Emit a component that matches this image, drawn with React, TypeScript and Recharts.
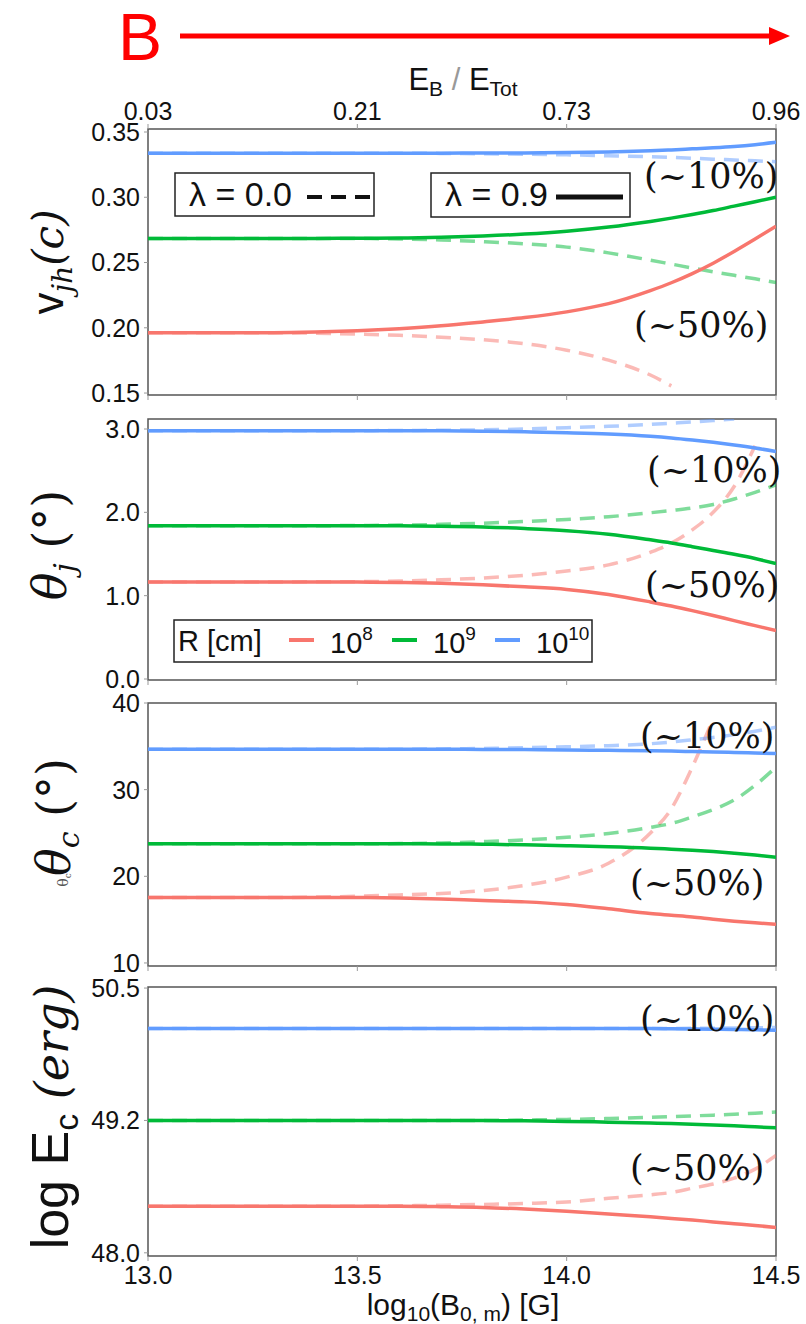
import React from 'react';
import { LineChart, Line, XAxis, YAxis, ReferenceArea } from 'recharts';

// Shared abscissa: log10 of the surface field B0,m in gauss
const B_FIELD = [13.0, 13.1, 13.2, 13.3, 13.4, 13.5, 13.6, 13.7, 13.8, 13.9, 14.0, 14.1, 14.2, 14.25, 14.3, 14.35, 14.4, 14.45, 14.5];
const B_TICKS = [13.0, 13.5, 14.0, 14.5];
const B_TICK_LABELS = ['13.0', '13.5', '14.0', '14.5'];
// Magnetic-to-total energy fraction at the same field values (top axis)
const EB_FRACTION_LABELS = ['0.03', '0.21', '0.73', '0.96'];

// Stellar radius families
const R_EXPONENTS = ['8', '9', '10'];
const R_COLORS = ['#F8766D', '#00BA38', '#619CFF'];

// Jet head velocity v_jh (c)
const V_TICKS = [0.15, 0.2, 0.25, 0.3, 0.35];
const V_TICK_LABELS = ['0.15', '0.20', '0.25', '0.30', '0.35'];
const V_R8_SOLID = [0.1962, 0.1962, 0.1962, 0.1962, 0.1967, 0.1977, 0.1993, 0.2015, 0.2045, 0.2078, 0.2122, 0.2185, 0.2285, 0.2345, 0.2415, 0.2495, 0.2585, 0.268, 0.2778];
const V_R8_DASH = [0.1962, 0.1962, 0.1962, 0.1962, 0.1958, 0.1952, 0.1942, 0.1928, 0.1908, 0.1878, 0.1828, 0.1752, 0.1638, 0.1555, null, null, null, null, null];
const V_R9_SOLID = [0.2685, 0.2685, 0.2685, 0.2685, 0.2685, 0.2686, 0.2688, 0.2693, 0.2703, 0.2718, 0.274, 0.2772, 0.2815, 0.284, 0.2868, 0.2898, 0.2932, 0.2966, 0.3];
const V_R9_DASH = [0.2685, 0.2685, 0.2685, 0.2685, 0.2685, 0.2684, 0.2681, 0.2673, 0.266, 0.2643, 0.2618, 0.2574, 0.2518, 0.2488, 0.2458, 0.2429, 0.2402, 0.2375, 0.2346];
const V_R10_SOLID = [0.3338, 0.3338, 0.3338, 0.3338, 0.3338, 0.3338, 0.3338, 0.3338, 0.3339, 0.334, 0.3342, 0.3346, 0.3356, 0.3363, 0.3371, 0.3379, 0.3389, 0.3403, 0.3421];
const V_R10_DASH = [0.3338, 0.3338, 0.3338, 0.3338, 0.3338, 0.3338, 0.3338, 0.3336, 0.3333, 0.333, 0.3325, 0.3318, 0.331, 0.3305, 0.3299, 0.3292, 0.3286, 0.3279, 0.3272];

// Jet opening angle theta_j (deg)
const TJ_TICKS = [0, 1, 2, 3];
const TJ_TICK_LABELS = ['0.0', '1.0', '2.0', '3.0'];
const TJ_R8_SOLID = [1.165, 1.165, 1.165, 1.165, 1.165, 1.163, 1.158, 1.148, 1.13, 1.106, 1.075, 1.015, 0.925, 0.875, 0.82, 0.762, 0.7, 0.64, 0.58];
const TJ_R8_DASH = [1.165, 1.165, 1.165, 1.165, 1.166, 1.168, 1.175, 1.19, 1.212, 1.245, 1.295, 1.37, 1.52, 1.63, 1.79, 2.0, 2.31, 2.8, null];
const TJ_R9_SOLID = [1.84, 1.84, 1.84, 1.84, 1.84, 1.84, 1.838, 1.834, 1.825, 1.806, 1.78, 1.738, 1.67, 1.632, 1.588, 1.542, 1.496, 1.445, 1.385];
const TJ_R9_DASH = [1.84, 1.84, 1.84, 1.84, 1.84, 1.842, 1.847, 1.856, 1.87, 1.89, 1.915, 1.947, 1.995, 2.022, 2.052, 2.095, 2.16, 2.24, 2.33];
const TJ_R10_SOLID = [2.98, 2.98, 2.98, 2.98, 2.98, 2.98, 2.98, 2.978, 2.974, 2.966, 2.955, 2.94, 2.913, 2.893, 2.868, 2.84, 2.808, 2.772, 2.73];
const TJ_R10_DASH = [2.98, 2.98, 2.98, 2.98, 2.98, 2.98, 2.982, 2.985, 2.99, 3.0, 3.015, 3.032, 3.055, 3.07, 3.085, 3.102, 3.12, null, null];

// Cocoon opening angle theta_c (deg)
const TC_TICKS = [10, 20, 30, 40];
const TC_TICK_LABELS = ['10', '20', '30', '40'];
const TC_R8_SOLID = [17.56, 17.56, 17.56, 17.56, 17.56, 17.55, 17.5, 17.38, 17.2, 17.05, 16.75, 16.25, 15.7, 15.5, 15.3, 15.05, 14.82, 14.63, 14.47];
const TC_R8_DASH = [17.56, 17.56, 17.56, 17.56, 17.6, 17.7, 17.85, 18.02, 18.35, 18.95, 19.9, 21.5, 25.0, 27.8, 32.6, 38.2, null, null, null];
const TC_R9_SOLID = [23.75, 23.75, 23.75, 23.75, 23.75, 23.75, 23.75, 23.74, 23.7, 23.63, 23.53, 23.42, 23.25, 23.13, 23.0, 22.85, 22.66, 22.45, 22.2];
const TC_R9_DASH = [23.75, 23.75, 23.75, 23.75, 23.75, 23.75, 23.78, 23.85, 24.0, 24.2, 24.5, 24.95, 25.65, 26.1, 26.85, 27.7, 28.8, 30.5, 32.6];
const TC_R10_SOLID = [34.66, 34.66, 34.66, 34.66, 34.66, 34.66, 34.66, 34.66, 34.64, 34.62, 34.58, 34.54, 34.48, 34.45, 34.4, 34.35, 34.3, 34.23, 34.16];
const TC_R10_DASH = [34.66, 34.66, 34.66, 34.66, 34.66, 34.66, 34.66, 34.7, 34.76, 34.84, 34.95, 35.08, 35.3, 35.5, 35.75, 36.02, 36.35, 36.75, 37.2];

// Cocoon energy log E_c (erg)
const LE_TICKS = [48.0, 49.25, 50.5];
const LE_TICK_LABELS = ['48.0', '49.2', '50.5'];
const LE_R8_SOLID = [48.44, 48.44, 48.44, 48.44, 48.44, 48.44, 48.44, 48.436, 48.429, 48.413, 48.392, 48.366, 48.34, 48.325, 48.31, 48.292, 48.275, 48.258, 48.24];
const LE_R8_DASH = [48.44, 48.44, 48.44, 48.44, 48.44, 48.44, 48.444, 48.45, 48.457, 48.466, 48.48, 48.515, 48.548, 48.57, 48.61, 48.65, 48.705, 48.79, 48.92];
const LE_R9_SOLID = [49.25, 49.25, 49.25, 49.25, 49.25, 49.25, 49.25, 49.25, 49.25, 49.246, 49.241, 49.234, 49.226, 49.221, 49.215, 49.208, 49.2, 49.19, 49.18];
const LE_R9_DASH = [49.25, 49.25, 49.25, 49.25, 49.25, 49.25, 49.25, 49.25, 49.25, 49.254, 49.26, 49.268, 49.279, 49.286, 49.293, 49.3, 49.309, 49.319, 49.33];
const LE_R10_SOLID = [50.118, 50.118, 50.118, 50.118, 50.118, 50.118, 50.118, 50.118, 50.118, 50.118, 50.118, 50.118, 50.118, 50.116, 50.114, 50.112, 50.109, 50.106, 50.102];
const LE_R10_DASH = [50.118, 50.118, 50.118, 50.118, 50.118, 50.118, 50.118, 50.118, 50.118, 50.118, 50.118, 50.118, 50.118, 50.119, 50.12, 50.121, 50.123, 50.125, 50.128];

type Series = { key: string; values: (number | null)[]; color: string; dashed: boolean };

const familySeries = (s8: any[], d8: any[], s9: any[], d9: any[], s10: any[], d10: any[]): Series[] => [
  { key: 'r8d', values: d8, color: R_COLORS[0], dashed: true },
  { key: 'r9d', values: d9, color: R_COLORS[1], dashed: true },
  { key: 'r10d', values: d10, color: R_COLORS[2], dashed: true },
  { key: 'r8s', values: s8, color: R_COLORS[0], dashed: false },
  { key: 'r9s', values: s9, color: R_COLORS[1], dashed: false },
  { key: 'r10s', values: s10, color: R_COLORS[2], dashed: false },
];

type PanelDef = {
  top: number;
  height: number;
  marginTop: number;
  marginBottom: number;
  bottomHeight: number;
  topAxis: boolean;
  bottomLabels: boolean;
  domain: [number, number];
  ticks: number[];
  tickLabels: string[];
  series: Series[];
};

// Each chart box overlaps its neighbours slightly so edge tick labels have room
const PANELS: PanelDef[] = [
  {
    top: 0, height: 417, marginTop: 99, marginBottom: 12, bottomHeight: 10, topAxis: true, bottomLabels: false,
    domain: [0.1485, 0.3523], ticks: V_TICKS, tickLabels: V_TICK_LABELS,
    series: familySeries(V_R8_SOLID, V_R8_DASH, V_R9_SOLID, V_R9_DASH, V_R10_SOLID, V_R10_DASH),
  },
  {
    top: 393, height: 309, marginTop: 26, marginBottom: 12, bottomHeight: 10, topAxis: false, bottomLabels: false,
    domain: [-0.012, 3.12], ticks: TJ_TICKS, tickLabels: TJ_TICK_LABELS,
    series: familySeries(TJ_R8_SOLID, TJ_R8_DASH, TJ_R9_SOLID, TJ_R9_DASH, TJ_R10_SOLID, TJ_R10_DASH),
  },
  {
    top: 678, height: 310, marginTop: 25, marginBottom: 12, bottomHeight: 10, topAxis: false, bottomLabels: false,
    domain: [9.65, 40], ticks: TC_TICKS, tickLabels: TC_TICK_LABELS,
    series: familySeries(TC_R8_SOLID, TC_R8_DASH, TC_R9_SOLID, TC_R9_DASH, TC_R10_SOLID, TC_R10_DASH),
  },
  {
    top: 964, height: 360, marginTop: 23, marginBottom: 0, bottomHeight: 68, topAxis: false, bottomLabels: true,
    domain: [47.97, 50.51], ticks: LE_TICKS, tickLabels: LE_TICK_LABELS,
    series: familySeries(LE_R8_SOLID, LE_R8_DASH, LE_R9_SOLID, LE_R9_DASH, LE_R10_SOLID, LE_R10_DASH),
  },
];

const SANS = 'Liberation Sans, Arial, sans-serif';
const SERIF = 'DejaVu Serif, serif';
const TICK_STYLE = { fill: '#111', fontSize: 25, fontFamily: SANS };

const labelFor = (ticks: number[], labels: string[]) => (v: number) => {
  let best = 0;
  ticks.forEach((t, i) => { if (Math.abs(t - v) < Math.abs(ticks[best] - v)) best = i; });
  return labels[best];
};

function Panel({ p }: { p: PanelDef }) {
  const rows = B_FIELD.map((b, i) => {
    const row: Record<string, number | null> = { b };
    p.series.forEach((s) => { row[s.key] = s.values[i]; });
    return row;
  });
  return (
    <div style={{ position: 'absolute', left: 0, top: p.top, width: 806, height: p.height }}>
      <LineChart
        width={806} height={p.height} data={rows}
        margin={{ top: p.marginTop, right: 30, bottom: p.marginBottom, left: 0 }}
        style={{ overflow: 'visible' }}
      >
        {p.topAxis && (
          <XAxis
            xAxisId="top" orientation="top" dataKey="b" type="number" domain={[13, 14.5]}
            ticks={B_TICKS} tickFormatter={labelFor(B_TICKS, EB_FRACTION_LABELS)} interval={0}
            height={30} axisLine={false} tickLine={{ stroke: '#999' }} tickSize={5} tickMargin={4}
            tick={TICK_STYLE} allowDataOverflow
          />
        )}
        <XAxis
          dataKey="b" type="number" domain={[13, 14.5]} ticks={B_TICKS}
          tickFormatter={p.bottomLabels ? labelFor(B_TICKS, B_TICK_LABELS) : () => ''}
          interval={0} height={p.bottomHeight} axisLine={false} tickLine={{ stroke: '#999' }}
          tickSize={5} tickMargin={5} tick={TICK_STYLE} allowDataOverflow
        />
        <YAxis
          type="number" domain={p.domain} ticks={p.ticks} tickFormatter={labelFor(p.ticks, p.tickLabels)}
          interval={0} width={148} axisLine={false} tickLine={{ stroke: '#999' }} tickSize={4}
          tickMargin={4} tick={TICK_STYLE} allowDataOverflow
        />
        <ReferenceArea
          x1={13} x2={14.5} y1={p.domain[0]} y2={p.domain[1]}
          fill="none" fillOpacity={0} stroke="#555" strokeWidth={1.5} ifOverflow="visible"
        />
        {p.series.map((s) => (
          <Line
            key={s.key} dataKey={s.key} type="monotone" stroke={s.color}
            strokeOpacity={s.dashed ? 0.5 : 1} strokeWidth={3.5}
            strokeDasharray={s.dashed ? '15 9' : undefined}
            dot={false} activeDot={false} connectNulls={false} isAnimationActive={false}
          />
        ))}
      </LineChart>
    </div>
  );
}

// Percent-change callouts: [x, baseline y, text]
const CALLOUTS: [number, number, string][] = [
  [644, 188, '(~10%)'], [634, 337, '(~50%)'],
  [647, 482, '(~10%)'], [645, 597, '(~50%)'],
  [640, 748, '(~10%)'], [630, 895, '(~50%)'],
  [640, 1031, '(~10%)'], [630, 1180, '(~50%)'],
];

function Decorations() {
  return (
    <svg width={806} height={1324} style={{ position: 'absolute', left: 0, top: 0, pointerEvents: 'none' }}>
      {/* field-strength arrow */}
      <text x={118} y={60} fontSize={66} fill="#FF0000" fontFamily={SANS}>B</text>
      <line x1={180} y1={36} x2={772} y2={36} stroke="#FF0000" strokeWidth={5} />
      <polygon points="769,27 790,36 769,45" fill="#FF0000" />

      {/* top axis title */}
      <text x={463} y={90} textAnchor="middle" fontSize={31} fontFamily={SANS} fill="#111">
        E<tspan fontSize={21} dy={6}>B</tspan>
        <tspan dy={-6} fill="#999" fontSize={31}> / </tspan>
        E<tspan fontSize={21} dy={6}>Tot</tspan>
      </text>

      {/* y-axis titles */}
      <text transform="translate(63,262) rotate(-90)" textAnchor="middle" fill="#111">
        <tspan fontFamily={SANS} fontSize={44}>v</tspan>
        <tspan fontFamily={SERIF} fontStyle="italic" fontSize={28} dy={9}>jh</tspan>
        <tspan fontFamily={SERIF} fontStyle="italic" fontSize={42} dy={-9}>(c)</tspan>
      </text>
      <text transform="translate(66,545) rotate(-90)" textAnchor="middle" fill="#111">
        <tspan fontFamily={SERIF} fontStyle="italic" fontSize={46}>θ</tspan>
        <tspan fontFamily={SERIF} fontStyle="italic" fontSize={30} dy={9}>j</tspan>
        <tspan fontFamily={SERIF} fontSize={46} dy={-9}> (°)</tspan>
      </text>
      <text transform="translate(70,817) rotate(-90)" textAnchor="middle" fill="#111">
        <tspan fontFamily={SERIF} fontStyle="italic" fontSize={46}>θ</tspan>
        <tspan fontFamily={SERIF} fontStyle="italic" fontSize={30} dy={9}>c</tspan>
        <tspan fontFamily={SERIF} fontSize={46} dy={-9}> (°)</tspan>
      </text>
      <text transform="translate(68,880) rotate(-90)" textAnchor="middle" fill="#555">
        <tspan fontFamily={SERIF} fontSize={14}>θ</tspan>
        <tspan fontFamily={SERIF} fontSize={9} dy={3}>c</tspan>
      </text>
      <text transform="translate(68,1117) rotate(-90)" textAnchor="middle" fill="#111">
        <tspan fontFamily={SANS} fontSize={52}>log E</tspan>
        <tspan fontFamily={SANS} fontSize={34} dy={10}>c</tspan>
        <tspan fontFamily={SERIF} fontStyle="italic" fontSize={46} dy={-10}> (erg)</tspan>
      </text>

      {/* bottom axis title */}
      <text x={463} y={1315} textAnchor="middle" fontSize={30} fontFamily={SANS} fill="#111">
        log<tspan fontSize={21} dy={6}>10</tspan>
        <tspan dy={-6}>(B</tspan>
        <tspan fontSize={21} dy={6}>0, m</tspan>
        <tspan dy={-6}>) [G]</tspan>
      </text>

      {/* percent callouts */}
      {CALLOUTS.map(([x, y, t], i) => (
        <text key={i} x={x} y={y} fontSize={35} fontFamily={SERIF} fill="#111">{t}</text>
      ))}

      {/* spin-parameter key */}
      <rect x={175} y={173} width={199} height={43} fill="#fff" stroke="#222" strokeWidth={1.5} />
      <text x={189} y={206} fontSize={34} fontFamily={SANS} fill="#111">λ = 0.0</text>
      <line x1={307} y1={197} x2={370} y2={197} stroke="#111" strokeWidth={4} strokeDasharray="15 9" />
      <rect x={431} y={173} width={199} height={44} fill="#fff" stroke="#222" strokeWidth={1.5} />
      <text x={445} y={206} fontSize={34} fontFamily={SANS} fill="#111">λ = 0.9</text>
      <line x1={556} y1={197} x2={623} y2={197} stroke="#111" strokeWidth={5} />

      {/* radius key */}
      <rect x={174} y={620} width={418} height={42} fill="#fff" stroke="#222" strokeWidth={1.5} />
      <text x={178} y={651} fontSize={29} fontFamily={SANS} fill="#111">R [cm]</text>
      {R_EXPONENTS.map((e, i) => {
        const x0 = 289 + i * 103;
        return (
          <g key={e}>
            <line x1={x0} y1={640} x2={x0 + 25} y2={640} stroke={R_COLORS[i]} strokeWidth={4} />
            <text x={x0 + 41} y={653} fontSize={29} fontFamily={SANS} fill="#111">
              10<tspan fontSize={19} dy={-13}>{e}</tspan>
            </text>
          </g>
        );
      })}
    </svg>
  );
}

export default function App() {
  return (
    <div style={{ position: 'absolute', left: 0, top: 0, width: 806, height: 1324, background: '#fff', overflow: 'hidden' }}>
      {PANELS.map((p, i) => <Panel key={i} p={p} />)}
      <Decorations />
    </div>
  );
}
